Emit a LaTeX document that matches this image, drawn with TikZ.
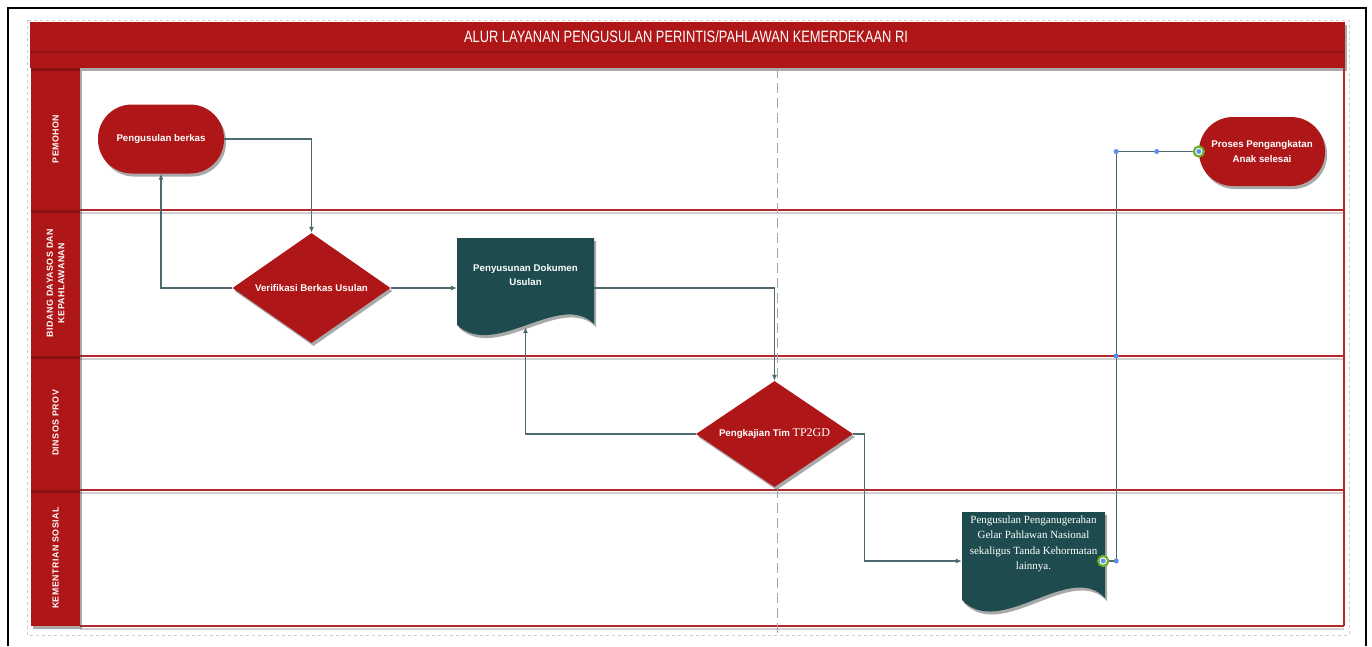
\documentclass[tikz,border=0pt]{standalone}
\usepackage{fontspec}
\setmainfont{Liberation Sans}
\newfontfamily\titlefont[FakeStretch=0.78]{Liberation Sans}
\newfontfamily\docserif{Liberation Serif}
\newfontfamily\lanefont[LetterSpace=6]{Liberation Sans}
\usetikzlibrary{shapes.geometric,shadows,arrows.meta,calc}
\definecolor{bpred}{HTML}{AF1618}
\definecolor{bpdark}{HTML}{8A1012}
\definecolor{bpteal}{HTML}{1E4C4E}
\definecolor{bpline}{HTML}{4D6A6E}
\definecolor{bplane}{HTML}{B2282A}
\definecolor{bpblue}{HTML}{5B8DEF}
\definecolor{bpgreen}{HTML}{6DB22F}
\begin{document}
\begin{tikzpicture}[x=1pt,y=-1pt,
  shad/.style={drop shadow={shadow xshift=2pt,shadow yshift=-3pt,opacity=0.45,fill=black!75}},
  lbl/.style={text=white,font=\bfseries\fontsize{9.7}{14}\selectfont,align=center},
  term/.style={shape=rectangle,rounded corners=34pt,fill=bpred,minimum width=126pt,
    minimum height=69pt,inner sep=0pt,lbl,shad},
  decision/.style={diamond,shape aspect=1.44,fill=bpred,inner sep=0pt,lbl,shad},
  docbox/.style={rectangle,inner sep=0pt},
  lanetxt/.style={text=white,font=\lanefont\bfseries\fontsize{8.8}{11.5}\selectfont,rotate=90,align=center},
  laneline/.style={draw=bplane,line width=1.3pt},
  laneshade/.style={draw=black!18,line width=2pt},
  conn/.style={draw=bpline,line width=1.1pt,-{Latex[length=6pt,width=5pt]}},
  connplain/.style={draw=bpline,line width=1.1pt},
  handle/.style={circle,fill=bpblue,inner sep=0pt,minimum size=5pt},
  ring/.style={circle,draw=bpgreen,line width=2.2pt,fill=white,inner sep=0pt,minimum size=10pt}
]
\useasboundingbox (0,0) rectangle (1372,646);
% outer frame
\draw[black,line width=1.4pt] (8,646) -- (8,8) -- (1366,8) -- (1366,646);
\draw[black!20,dashed,line width=0.8pt] (27,20) rectangle (1349,635);

% title bar
\fill[bpred,shad] (30,22) rectangle (1345,68);
\draw[bpdark!70!bpred,line width=1.2pt] (30,52) -- (1345,52);
\node[text=white,font=\titlefont\fontsize{16.5}{18}\selectfont] (title) at (686,37)
  {ALUR LAYANAN PENGUSULAN PERINTIS/PAHLAWAN KEMERDEKAAN RI};

% lane lines and border
\foreach \yy in {210,356,490,626} {
  \draw[laneshade] (80,\yy+2.5) -- (1344,\yy+2.5);
  \draw[laneline] (80,\yy) -- (1344,\yy);
}
\draw[laneline] (1344,68) -- (1344,626);
\draw[black!35,dashed,dash pattern=on 10pt off 5pt,line width=1pt] (777,68) -- (777,636);

% lane label column
\fill[bpred,shad] (31,68) rectangle (80,626);
\foreach \yy in {68,210,356,490} {
  \fill[bpdark] (31,\yy) rectangle (80,\yy+3);
}
\node[lanetxt] (l1) at (55.5,139) {PEMOHON};
\node[lanetxt] (l2) at (55.5,283) {BIDANG DAYASOS DAN\\KEPAHLAWANAN};
\node[lanetxt] (l3) at (55.5,423) {DINSOS PROV};
\node[lanetxt] (l4) at (55.5,558) {KEMENTRIAN SOSIAL};

% document shapes
\fill[bpteal,shad] (457,238) -- (594,238) -- (594,324)
  .. controls (560,290) and (495,360) .. (457,325) -- cycle;
\fill[bpteal,shad] (962,512) -- (1105,512) -- (1105,598)
  .. controls (1070,560) and (1000,640) .. (962,600) -- cycle;

% nodes
\node[term] (n1) at (161,139) {Pengusulan berkas};
\node[decision,minimum width=158pt,minimum height=110pt] (d1) at (311.5,288) {Verifikasi Berkas Usulan};
\node[docbox,minimum width=137pt,minimum height=100pt] (doc1) at (525.5,288) {};
\node[lbl] (doc1t) at (525.5,275) {Penyusunan Dokumen\\Usulan};
\node[decision,minimum width=157pt,minimum height=106pt] (d2) at (774.5,434)
  {Pengkajian Tim {\docserif\mdseries\fontsize{12}{14}\selectfont TP2GD}};
\node[docbox,minimum width=143pt,minimum height=98pt] (doc2) at (1033.5,561) {};
\node[text=white,align=center,font=\docserif\fontsize{11}{15.5}\selectfont] (doc2t) at (1033.5,544)
  {Pengusulan Penganugerahan\\Gelar Pahlawan Nasional\\sekaligus Tanda Kehormatan\\lainnya.};
\node[term,font=\bfseries\fontsize{9.7}{15}\selectfont] (n2) at (1262,151.5) {Proses Pengangkatan\\Anak selesai};

% connectors
\draw[conn] (n1.east) -| (d1.north);
\draw[conn] (d1.west) -| (n1.south);
\draw[conn] (d1.east) -- (doc1.west);
\draw[conn] (doc1.east) -| (d2.north);
\draw[conn] (d2.west) -| ($(doc1.south)+(0,-11)$);
\draw[conn] (d2.east) -- ++(11,0) |- (doc2.west);
\draw[connplain] (doc2.east) -- ++(11,0) coordinate (h1) |- (n2.west);
\coordinate (h2) at (h1 |- 0,356);
\coordinate (h3) at (h1 |- n2.west);

% selection handles
\node[handle] at (h1) {};
\node[handle] at (h2) {};
\node[handle] at (h3) {};
\node[handle] at ($(h3)!0.49!(n2.west)$) {};
\node[ring] at ($(doc2.east)+(-2,0)$) {};
\node[handle] at ($(doc2.east)+(-2,0)$) {};
\node[ring] at (n2.west) {};
\node[handle] at (n2.west) {};
\end{tikzpicture}
\end{document}
